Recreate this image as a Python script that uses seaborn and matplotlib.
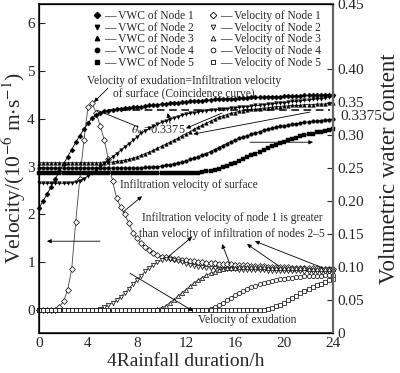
import numpy as np
import matplotlib
matplotlib.use("Agg")
import matplotlib.pyplot as plt
from matplotlib.lines import Line2D
import seaborn as sns

# time grid: one reading every 20 min over 24 h
hours = np.arange(73) / 3.0

# volumetric water content (right axis)
vwc_node1 = [0.189, 0.200, 0.211, 0.222, 0.234, 0.245, 0.256, 0.267, 0.278, 0.289, 0.299, 0.309,
             0.318, 0.326, 0.331, 0.334, 0.336, 0.337, 0.338, 0.339, 0.340, 0.341, 0.341, 0.342,
             0.343, 0.343, 0.344, 0.345, 0.345, 0.346, 0.347, 0.347, 0.348, 0.349, 0.349, 0.350,
             0.350, 0.351, 0.351, 0.352, 0.352, 0.353, 0.353, 0.354, 0.354, 0.354, 0.355, 0.355,
             0.355, 0.356, 0.356, 0.356, 0.357, 0.357, 0.357, 0.357, 0.358, 0.358, 0.358, 0.358,
             0.359, 0.359, 0.359, 0.359, 0.359, 0.360, 0.360, 0.360, 0.360, 0.360, 0.361, 0.361,
             0.361]
vwc_node2 = [0.227, 0.227, 0.227, 0.227, 0.227, 0.227, 0.227, 0.227, 0.228, 0.229, 0.231, 0.234,
             0.238, 0.242, 0.247, 0.252, 0.257, 0.262, 0.267, 0.272, 0.277, 0.282, 0.287, 0.292,
             0.297, 0.303, 0.306, 0.310, 0.313, 0.316, 0.319, 0.321, 0.324, 0.326, 0.328, 0.330,
             0.332, 0.333, 0.334, 0.335, 0.336, 0.337, 0.338, 0.338, 0.339, 0.340, 0.340, 0.341,
             0.341, 0.342, 0.343, 0.343, 0.344, 0.345, 0.345, 0.346, 0.347, 0.347, 0.348, 0.349,
             0.349, 0.350, 0.351, 0.351, 0.352, 0.353, 0.353, 0.354, 0.355, 0.355, 0.356, 0.357,
             0.358]
vwc_node3 = [0.258, 0.258, 0.258, 0.258, 0.258, 0.258, 0.258, 0.258, 0.258, 0.258, 0.258, 0.258,
             0.258, 0.258, 0.258, 0.258, 0.258, 0.259, 0.259, 0.260, 0.261, 0.262, 0.263, 0.265,
             0.267, 0.269, 0.272, 0.274, 0.277, 0.280, 0.283, 0.286, 0.289, 0.292, 0.295, 0.299,
             0.302, 0.305, 0.309, 0.312, 0.315, 0.318, 0.321, 0.324, 0.327, 0.329, 0.331, 0.333,
             0.334, 0.336, 0.337, 0.338, 0.339, 0.339, 0.340, 0.341, 0.341, 0.342, 0.343, 0.343,
             0.344, 0.344, 0.345, 0.345, 0.345, 0.346, 0.346, 0.346, 0.347, 0.347, 0.347, 0.348,
             0.348]
vwc_node4 = [0.250, 0.250, 0.250, 0.250, 0.250, 0.250, 0.250, 0.250, 0.250, 0.250, 0.250, 0.250,
             0.250, 0.250, 0.250, 0.250, 0.250, 0.250, 0.250, 0.250, 0.250, 0.250, 0.250, 0.250,
             0.250, 0.250, 0.251, 0.251, 0.252, 0.252, 0.253, 0.254, 0.255, 0.256, 0.258, 0.259,
             0.261, 0.263, 0.265, 0.267, 0.270, 0.272, 0.275, 0.278, 0.281, 0.284, 0.287, 0.290,
             0.292, 0.295, 0.297, 0.299, 0.301, 0.303, 0.305, 0.307, 0.309, 0.310, 0.312, 0.313,
             0.314, 0.315, 0.316, 0.317, 0.318, 0.319, 0.320, 0.321, 0.321, 0.322, 0.323, 0.323,
             0.324]
vwc_node5 = [0.242, 0.242, 0.242, 0.242, 0.242, 0.242, 0.242, 0.242, 0.242, 0.242, 0.242, 0.242,
             0.242, 0.242, 0.242, 0.242, 0.242, 0.242, 0.242, 0.242, 0.242, 0.242, 0.242, 0.242,
             0.242, 0.242, 0.242, 0.242, 0.242, 0.242, 0.242, 0.242, 0.242, 0.242, 0.242, 0.242,
             0.242, 0.242, 0.243, 0.243, 0.244, 0.245, 0.246, 0.247, 0.249, 0.251, 0.253, 0.256,
             0.258, 0.261, 0.263, 0.266, 0.269, 0.272, 0.275, 0.278, 0.280, 0.283, 0.285, 0.288,
             0.290, 0.292, 0.294, 0.296, 0.298, 0.300, 0.301, 0.302, 0.304, 0.305, 0.306, 0.308,
             0.309]

# infiltration velocity, 10^-6 m/s (left axis)
vel_node1 = [0.0, 0.0, 0.0, 0.0, 0.01, 0.07, 0.18, 0.42, 0.85, 1.85, 2.75, 3.55,
             4.25, 4.33, 4.12, 3.85, 3.55, 3.15, 2.70, 2.35, 2.15, 2.00, 1.82, 1.62,
             1.50, 1.40, 1.32, 1.26, 1.20, 1.15, 1.12, 1.10, 1.08, 1.07, 1.06, 1.05,
             1.04, 1.03, 1.02, 1.01, 1.00, 0.99, 0.985, 0.98, 0.97, 0.965, 0.96, 0.955,
             0.95, 0.945, 0.94, 0.935, 0.93, 0.925, 0.92, 0.915, 0.91, 0.91, 0.905, 0.90,
             0.90, 0.895, 0.89, 0.89, 0.885, 0.88, 0.875, 0.87, 0.87, 0.865, 0.86, 0.86,
             0.855]
vel_node2 = [0.0, 0.0, 0.0, 0.0, 0.0, 0.0, 0.0, 0.0, 0.0, 0.0, 0.0, 0.0,
             0.0, 0.0, 0.01, 0.03, 0.06, 0.10, 0.15, 0.21, 0.28, 0.36, 0.45, 0.54,
             0.63, 0.72, 0.81, 0.89, 0.95, 1.00, 1.04, 1.06, 1.06, 1.04, 1.02, 1.00,
             0.97, 0.95, 0.93, 0.91, 0.90, 0.89, 0.88, 0.87, 0.865, 0.86, 0.855, 0.85,
             0.85, 0.845, 0.84, 0.84, 0.835, 0.835, 0.83, 0.83, 0.825, 0.825, 0.82, 0.82,
             0.815, 0.815, 0.81, 0.81, 0.81, 0.805, 0.805, 0.80, 0.80, 0.80, 0.795, 0.795,
             0.79]
vel_node3 = [0.0, 0.0, 0.0, 0.0, 0.0, 0.0, 0.0, 0.0, 0.0, 0.0, 0.0, 0.0,
             0.0, 0.0, 0.0, 0.0, 0.0, 0.0, 0.0, 0.0, 0.0, 0.0, 0.0, 0.0,
             0.0, 0.0, 0.0, 0.0, 0.01, 0.03, 0.05, 0.09, 0.15, 0.22, 0.29, 0.36,
             0.43, 0.50, 0.57, 0.63, 0.68, 0.73, 0.77, 0.80, 0.83, 0.85, 0.87, 0.88,
             0.89, 0.895, 0.90, 0.90, 0.90, 0.90, 0.895, 0.895, 0.89, 0.89, 0.885, 0.885,
             0.88, 0.88, 0.875, 0.875, 0.87, 0.87, 0.865, 0.865, 0.86, 0.86, 0.855, 0.855,
             0.85]
vel_node4 = [0.0, 0.0, 0.0, 0.0, 0.0, 0.0, 0.0, 0.0, 0.0, 0.0, 0.0, 0.0,
             0.0, 0.0, 0.0, 0.0, 0.0, 0.0, 0.0, 0.0, 0.0, 0.0, 0.0, 0.0,
             0.0, 0.0, 0.0, 0.0, 0.0, 0.0, 0.0, 0.0, 0.0, 0.0, 0.0, 0.0,
             0.0, 0.0, 0.0, 0.0, 0.0, 0.01, 0.03, 0.06, 0.10, 0.15, 0.20, 0.26,
             0.31, 0.36, 0.40, 0.44, 0.48, 0.51, 0.54, 0.57, 0.59, 0.61, 0.63, 0.65,
             0.66, 0.67, 0.68, 0.69, 0.70, 0.705, 0.71, 0.715, 0.72, 0.72, 0.725, 0.73,
             0.73]
vel_node5 = [0.0, 0.0, 0.0, 0.0, 0.0, 0.0, 0.0, 0.0, 0.0, 0.0, 0.0, 0.0,
             0.0, 0.0, 0.0, 0.0, 0.0, 0.0, 0.0, 0.0, 0.0, 0.0, 0.0, 0.0,
             0.0, 0.0, 0.0, 0.0, 0.0, 0.0, 0.0, 0.0, 0.0, 0.0, 0.0, 0.0,
             0.0, 0.0, 0.0, 0.0, 0.0, 0.0, 0.0, 0.0, 0.0, 0.0, 0.0, 0.0,
             0.0, 0.0, 0.0, 0.0, 0.0, 0.0, 0.0, 0.01, 0.03, 0.05, 0.08, 0.11,
             0.15, 0.20, 0.25, 0.30, 0.35, 0.40, 0.44, 0.48, 0.52, 0.55, 0.59, 0.62,
             0.65]

vwc_series = [vwc_node1, vwc_node2, vwc_node3, vwc_node4, vwc_node5]
vel_series = [vel_node1, vel_node2, vel_node3, vel_node4, vel_node5]
node_names = ["Node 1", "Node 2", "Node 3", "Node 4", "Node 5"]
node_markers = ["D", "v", "^", "o", "s"]
theta_w = 0.3375

x_ticks = [0, 4, 8, 12, 16, 20, 24]
vel_ticks = [0, 1, 2, 3, 4, 5, 6]
vwc_ticks = [0, 0.05, 0.10, 0.15, 0.20, 0.25, 0.30, 0.35, 0.40]
vwc_labels = ["0", "0.05", "0.10", "0.15", "0.20", "0.25", "0.30", "0.35", "0.40"]

sns.set_theme(style="white")
plt.rcParams["font.family"] = ["Liberation Serif", "DejaVu Serif"]
plt.rcParams["mathtext.fontset"] = "stix"
plt.rcParams["xtick.direction"] = "in"
plt.rcParams["ytick.direction"] = "in"

fig = plt.figure(figsize=(4.0, 3.73), dpi=100)
ax = fig.add_axes([0.0975, 0.1072, 0.735, 0.882])
ax2 = ax.twinx()

for vals, mk in zip(vel_series, node_markers):
    sns.lineplot(x=hours, y=vals, ax=ax, color="#444444", linewidth=0.6,
                 marker=mk, markersize=3.0, markerfacecolor="white",
                 markeredgecolor="black", markeredgewidth=0.5, clip_on=False)

for vals, mk in zip(vwc_series, node_markers):
    sns.lineplot(x=hours, y=vals, ax=ax2, color="black", linewidth=0.6,
                 marker=mk, markersize=2.6, markerfacecolor="black",
                 markeredgecolor="black", markeredgewidth=0.3, clip_on=False)

ax2.axhline(theta_w, xmin=0.235, xmax=0.99, color="black", linestyle=(0, (5, 3)), linewidth=1.1)

ax.set_xlim(0, 24)
ax.set_ylim(-0.48, 6.4)
ax2.set_ylim(0, 0.4985)
ax.set_xticks(x_ticks)
ax.set_yticks(vel_ticks)
ax2.set_yticks(vwc_ticks + [0.4985])
ax2.set_yticklabels(vwc_labels + ["0.45"])
ax.tick_params(axis="both", labelsize=11, length=4, width=0.8, pad=3)
ax2.tick_params(axis="y", labelsize=11, length=4, width=0.8, pad=3)
ax2.annotate("0.3375", xy=(1, theta_w), xycoords=("axes fraction", "data"),
             xytext=(5.5, -4.5), textcoords="offset points", va="center", ha="left", fontsize=11)

for side in ["left", "bottom", "top"]:
    ax2.spines[side].set_color("black")
    ax2.spines[side].set_linewidth(0.9)
ax2.spines["right"].set_color("#666666")
ax2.spines["right"].set_linewidth(1.6)

ax.set_xlabel("4Rainfall duration/h", fontsize=14, labelpad=2)
ax.set_ylabel("Velocity/(10$^{-6}$ m$\\cdot$s$^{-1}$)", fontsize=15.5)
ax.yaxis.set_label_coords(-0.036, 0.5)
ax2.set_ylabel("Volumetric water content", fontsize=16.5)
ax2.yaxis.set_label_coords(1.158, 0.5)
ax2.set_xlabel("")

# legends
vwc_handles = [Line2D([], [], marker=m, linestyle="none", color="black", markersize=3.2) for m in node_markers]
vel_handles = [Line2D([], [], marker=m, linestyle="none", markerfacecolor="white",
                      markeredgecolor="black", markeredgewidth=0.6, markersize=3.4) for m in node_markers]
leg1 = ax2.legend(vwc_handles, ["— VWC of " + n for n in node_names], loc="upper left",
                  bbox_to_anchor=(0.185, 0.982), frameon=False, fontsize=8.3, borderpad=0,
                  borderaxespad=0, handlelength=0.6, handletextpad=0.3, labelspacing=-0.02)
ax2.add_artist(leg1)
ax2.legend(vel_handles, ["— Velocity of " + n for n in node_names], loc="upper left",
           bbox_to_anchor=(0.58, 0.982), frameon=False, fontsize=8.3, borderpad=0,
           borderaxespad=0, handlelength=0.6, handletextpad=0.3, labelspacing=-0.02)

arrow = dict(arrowstyle="-|>", color="black", lw=0.6, mutation_scale=6, shrinkA=0, shrinkB=0)
plain = dict(arrowstyle="-", color="black", lw=0.6, shrinkA=0, shrinkB=0)
fs = 8.3

ax.text(11.84, 4.66, "Velocity of exudation=Infiltration velocity\nof surface (Coincidence curve)",
        ha="center", va="center", fontsize=fs, linespacing=0.95)
ax.annotate("", xy=(4.49, 4.35), xytext=(5.63, 4.64), arrowprops=arrow)

ax.text(9.75, 3.76, "$\\theta_{\\mathrm{w}}$=0.3375", ha="center", va="center", fontsize=fs + 0.5)
ax.annotate("", xy=(4.73, 4.18), xytext=(8.1, 3.83), arrowprops=plain)
ax.annotate("", xy=(10.5, 4.12), xytext=(10.7, 3.9), arrowprops=arrow)
ax.annotate("", xy=(12.0, 3.80), xytext=(14.94, 4.12), arrowprops=arrow)
ax.annotate("", xy=(12.6, 3.68), xytext=(22.1, 4.14), arrowprops=arrow)

ax.text(6.6, 2.62, "Infiltration velocity of surface", ha="left", va="center", fontsize=fs)
ax.annotate("", xy=(8.41, 2.38), xytext=(6.86, 2.05), arrowprops=arrow)

ax.text(15.76, 1.75, "Infiltration velocity of node 1 is greater\nthan velocity of infiltration of nodes 2\u20135",
        ha="center", va="center", fontsize=fs, linespacing=1.45)
ax.annotate("", xy=(12.49, 1.53), xytext=(10.53, 1.11), arrowprops=arrow)
ax.annotate("", xy=(14.94, 1.38), xytext=(15.59, 0.96), arrowprops=arrow)
ax.annotate("", xy=(16.98, 1.38), xytext=(19.59, 0.92), arrowprops=arrow)
ax.annotate("", xy=(17.63, 1.44), xytext=(23.18, 0.88), arrowprops=arrow)

ax.text(12.98, -0.21, "Velocity of exudation", ha="left", va="center", fontsize=fs)
ax.annotate("", xy=(12.57, -0.02), xytext=(7.43, 0.77), arrowprops=arrow)

ax.annotate("", xy=(0.65, 1.44), xytext=(4.98, 1.44), arrowprops=arrow)
ax.annotate("", xy=(22.37, 3.51), xytext=(17.22, 3.51), arrowprops=arrow)

fig.savefig("out.png", dpi=100)
